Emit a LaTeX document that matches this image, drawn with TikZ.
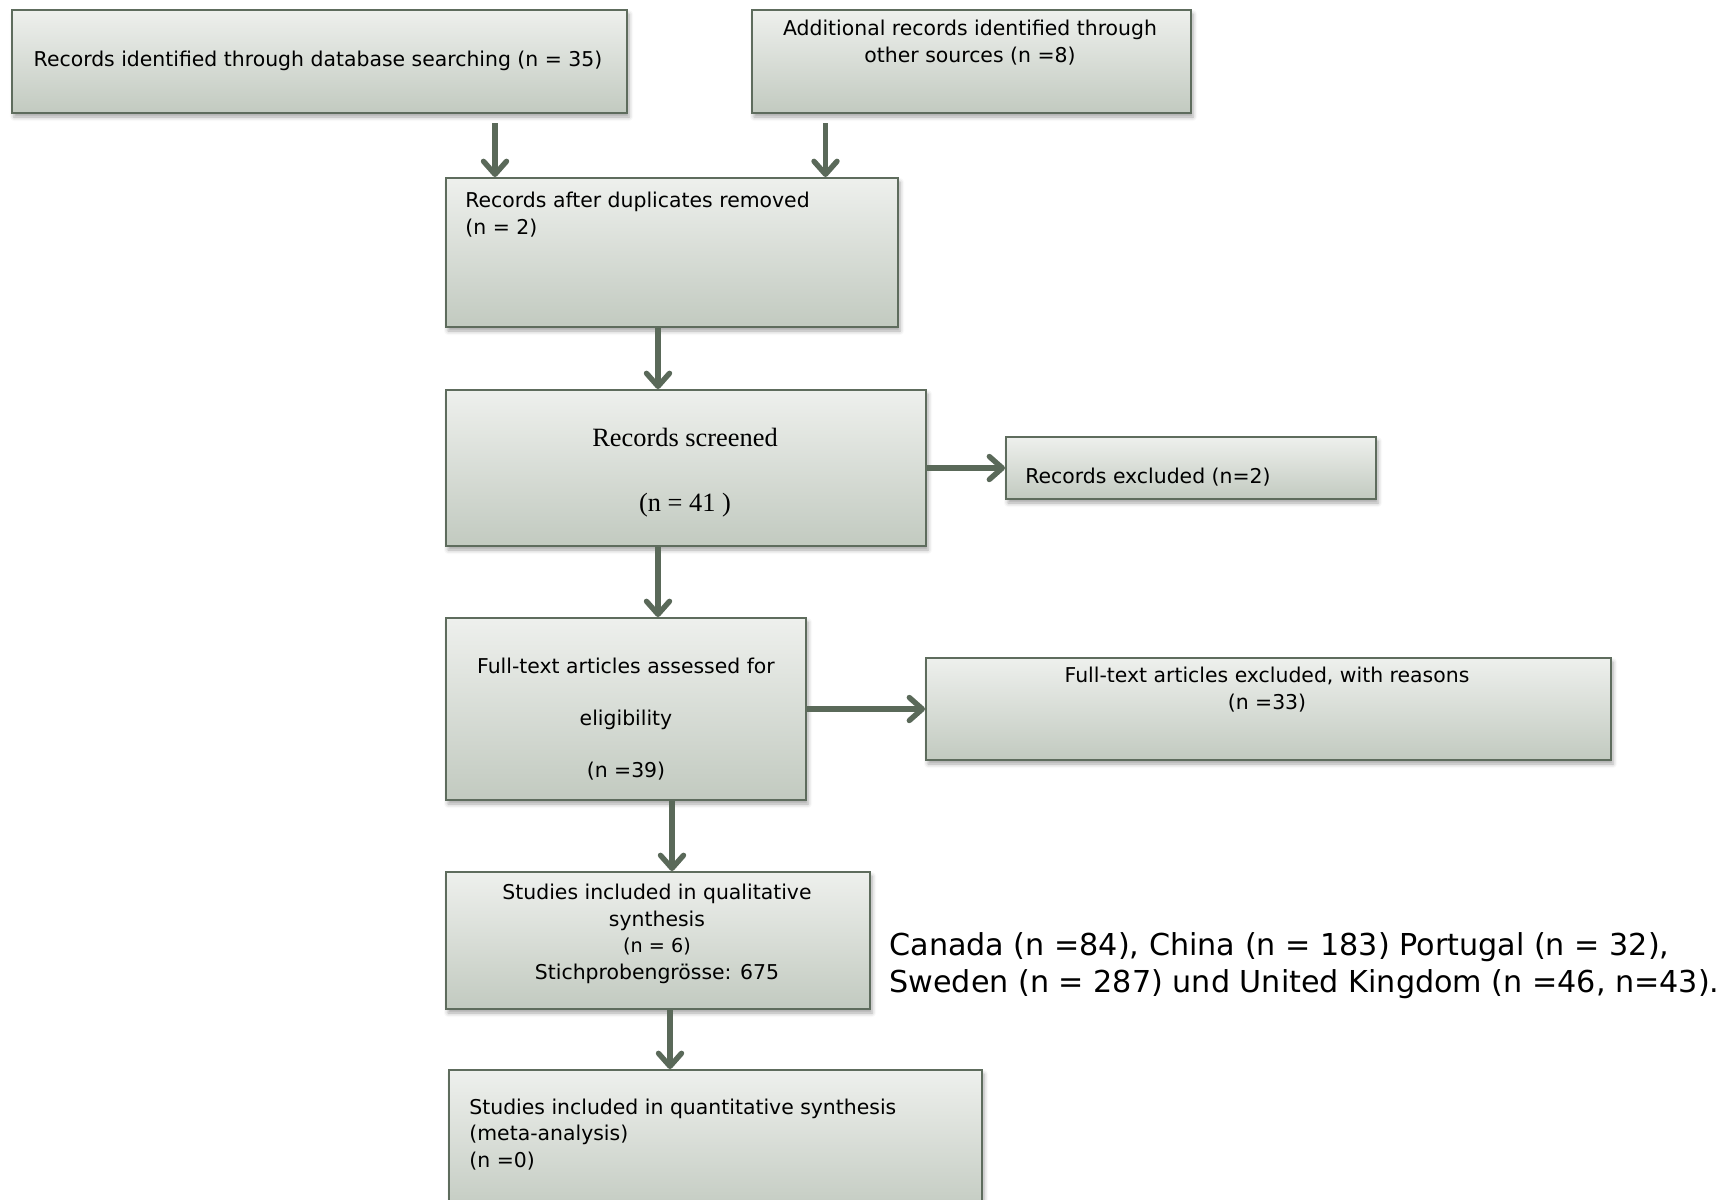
\documentclass[tikz,border=0pt]{standalone}
\usepackage{fontspec}
\setmainfont{DejaVu Sans}
\newfontfamily\timesface{Liberation Serif}
\usepackage{tikz}
\usetikzlibrary{arrows.meta,positioning,calc,shadows.blur}
\definecolor{boxtop}{HTML}{EEF0ED}
\definecolor{boxbot}{HTML}{C2CAC0}
\definecolor{frame}{HTML}{5E6C5D}
\definecolor{link}{HTML}{5A6959}

\begin{document}
\begin{tikzpicture}[x=0.5pt, y=-0.5pt,
    box/.style={draw=frame, line width=1pt, top color=boxtop, bottom color=boxbot,
                inner sep=0pt, anchor=north west,
                blur shadow={shadow xshift=1pt, shadow yshift=-2pt, shadow blur radius=2pt, shadow opacity=35}},
    txt/.style={font=\fontsize{10.2}{13.2}\selectfont, inner sep=0pt},
    arr/.style={link, line width=2.7pt, -{Straight Barb[length=6.5pt, width=11.5pt, round]}}]
  \useasboundingbox (0,0) rectangle (1725,1200);
  % identification (multi-line texts sit on the baseline of their last line)
  \node[box, minimum width=307.5pt, minimum height=51.5pt] (db) at (11,9) {};
  \node[box, minimum width=219.5pt, minimum height=51.5pt] (other) at (751,9) {};
  \node[txt, anchor=base] (dbtxt) at (318,66) {Records identified through database searching (n = 35)};
  \node[txt, anchor=base, align=center] (othertxt) at (970,62)
        {Additional records identified through\\ other sources (n =8)};
  % screening
  \node[box, minimum width=226pt, minimum height=74.5pt] (dup) at (445,177) {};
  \node[txt, anchor=base west, align=left] (duptxt) at (465,234)
        {Records after duplicates removed\\ (n = 2)};
  \node[box, minimum width=240pt, minimum height=78pt] (scr) at (445,389) {};
  \node[inner sep=0pt, anchor=base, font=\timesface\fontsize{13.2}{16}\selectfont] (scrtxt) at (685,446) {Records screened};
  \node[inner sep=0pt, anchor=base, font=\timesface\fontsize{13.2}{16}\selectfont] (scrn) at (685,511) {(n = 41 )};
  \node[box, minimum width=185pt, minimum height=31pt] (excl) at (1005,436) {};
  \node[txt, anchor=base west] (excltxt) at (1025,483) {Records excluded (n=2)};
  % eligibility
  \node[box, minimum width=180pt, minimum height=91pt] (full) at (445,617) {};
  \node[txt, anchor=base, align=center, font=\fontsize{10.2}{25.8}\selectfont] (fulltxt) at (626,777)
        {Full-text articles assessed for\\ eligibility\\ (n =39)};
  \node[box, minimum width=342.5pt, minimum height=51pt] (fullex) at (925,657) {};
  \node[txt, anchor=base, align=center] (fullextxt) at (1267,709)
        {Full-text articles excluded, with reasons\\ (n =33)};
  % included
  \node[box, minimum width=212pt, minimum height=68.5pt] (qual) at (445,871) {};
  \node[txt, anchor=base, align=center] (qualtxt) at (657,979)
        {Studies included in qualitative\\ synthesis\\ {\fontsize{9.6}{13.2}\selectfont(n = 6)}\\ Stichprobengrösse: 675};
  \node[box, minimum width=266.5pt, minimum height=73pt] (quant) at (448,1069) {};
  \node[txt, anchor=base west, align=left] (quanttxt) at (469,1167)
        {Studies included in quantitative synthesis\\ (meta-analysis)\\ (n =0)};
  \node[anchor=base west, align=left, inner sep=0pt, font=\fontsize{15.1}{18.5}\selectfont] (countries) at (889,992)
        {Canada (n =84), China (n = 183) Portugal (n = 32),\\ Sweden (n = 287) und United Kingdom (n =46, n=43).};
  % connectors
  \draw[arr, shorten <=4.5pt] ([xshift=-66.5pt]db.south east) -- ([xshift=-66.5pt]db.south east |- dup.north);
  \draw[arr, shorten <=4.5pt] ([xshift=-73pt]other.south) -- ([xshift=-73pt]other.south |- dup.north);
  \draw[arr] ([xshift=-7pt]dup.south) -- ([xshift=-7pt]dup.south |- scr.north);
  \draw[arr] (scr.east) -- (excl.west);
  \draw[arr] ([xshift=-14pt]scr.south) -- ([xshift=-14pt]scr.south |- full.north);
  \draw[arr] ([xshift=7pt]qual.north |- full.south) -- ([xshift=7pt]qual.north);
  \draw[arr] (full.east) -- (fullex.west);
  \draw[arr] ([xshift=6pt]qual.south) -- ([xshift=6pt]qual.south |- quant.north);
\end{tikzpicture}
\end{document}
